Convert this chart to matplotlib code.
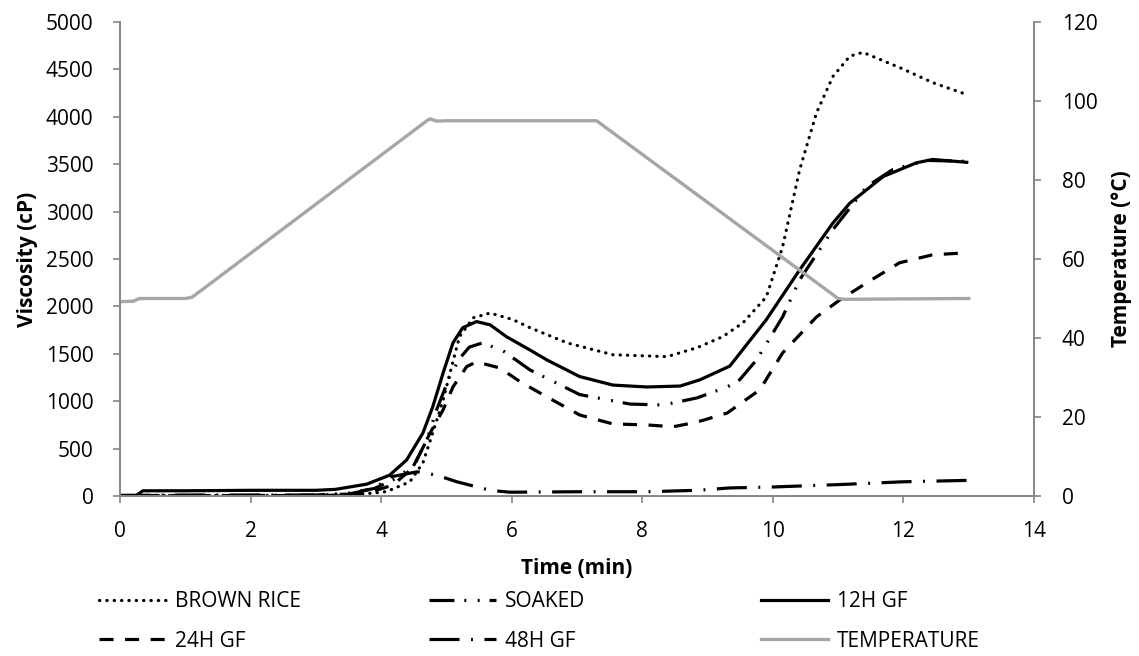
#!/usr/bin/env python

import matplotlib
matplotlib.use("Agg")
import matplotlib.pyplot as plt

plt.rcParams['font.family'] = ['Open Sans', 'DejaVu Sans']

# Temperature profile (time in min, temperature in °C)
temp_time = [0.0, 0.2, 0.3, 1.0, 1.1, 1.2, 4.7, 4.75, 4.85, 5.0, 7.3, 11.0, 11.1, 13.0]
temp_vals = [49.2, 49.3, 50.0, 50.0, 50.3, 51.5, 95.0, 95.5, 94.9, 95.0, 95.0, 50.0, 49.8, 50.0]

# Viscosity curves (time in min, viscosity in cP)
brown_time = [0.0, 1.0, 2.0, 3.0, 3.5, 4.03, 4.13, 4.44, 4.64, 4.79, 4.95, 5.08, 5.2,
              5.41, 5.67, 6.02, 6.28, 6.85, 7.55, 8.38, 8.84, 9.23, 9.54, 9.9, 10.15,
              10.41, 10.67, 10.92, 11.18, 11.38, 11.94, 12.45, 12.97]
brown_vals = [5, 5, 5, 5, 10, 40, 60, 150, 350, 665, 1015, 1365, 1680,
              1880, 1930, 1860, 1775, 1615, 1490, 1470, 1565, 1680, 1825, 2100, 2630,
              3440, 4045, 4425, 4640, 4680, 4520, 4360, 4235]

soaked_time = [0.0, 1.0, 2.0, 3.0, 3.5, 3.9, 4.18, 4.49, 4.7, 4.85, 5.05, 5.2, 5.35,
               5.55, 5.87, 6.28, 7.04, 7.81, 8.32, 8.84, 9.3, 9.49, 9.75, 10.15, 10.41,
               10.92, 11.44, 11.84, 12.36, 12.97]
soaked_vals = [5, 5, 5, 10, 30, 80, 170, 310, 590, 910, 1260, 1450, 1570,
               1615, 1530, 1330, 1070, 970, 960, 1035, 1150, 1225, 1435, 1890, 2280,
               2810, 3265, 3445, 3540, 3530]

gf12_time = [0.0, 0.25, 0.35, 1.0, 2.0, 3.0, 3.3, 3.78, 4.13, 4.39, 4.64, 4.79, 4.95,
             5.1, 5.25, 5.46, 5.67, 5.92, 6.28, 6.54, 7.04, 7.55, 8.07, 8.58, 8.88,
             9.34, 9.9, 10.41, 10.92, 11.18, 11.69, 12.2, 12.45, 12.97]
gf12_vals = [5, 5, 55, 55, 60, 60, 70, 125, 220, 380, 665, 940, 1300,
             1615, 1775, 1840, 1805, 1680, 1540, 1435, 1260, 1170, 1150, 1160, 1225,
             1370, 1860, 2385, 2880, 3090, 3370, 3515, 3550, 3520]

gf24_time = [0.0, 1.0, 2.0, 3.0, 3.5, 3.78, 4.18, 4.49, 4.75, 4.95, 5.1, 5.31, 5.46,
             5.82, 6.13, 6.54, 7.04, 7.55, 8.07, 8.47, 8.84, 9.3, 9.8, 10.15, 10.67,
             11.03, 11.44, 11.94, 12.45, 12.97]
gf24_vals = [5, 5, 5, 5, 10, 30, 115, 300, 665, 910, 1150, 1365, 1415,
             1350, 1205, 1045, 855, 760, 750, 730, 780, 875, 1120, 1510, 1890,
             2070, 2250, 2460, 2545, 2565]

gf48_time = [0.0, 1.0, 2.0, 3.0, 3.5, 3.9, 4.13, 4.55, 4.85, 5.16, 5.67, 5.97, 7.04,
             8.07, 8.84, 9.34, 10.0, 11.0, 12.0, 13.0]
gf48_vals = [5, 10, 10, 10, 20, 80, 200, 255, 220, 150, 60, 40, 45,
             45, 60, 85, 95, 120, 150, 165]

AXIS_GREY = '#868686'
TEMP_GREY = '#A6A6A6'
W, H = 1139, 656


def main() -> None:
    fig = plt.figure(figsize=(W / 100, H / 100), dpi=100)
    # axes box: x 120..1034 px, y 22..496 px
    ax = fig.add_axes([120 / W, 1 - 496 / H, 914 / W, 474 / H])
    ax2 = ax.twinx()

    lw = 2.3
    l_brown, = ax.plot(brown_time, brown_vals, color='black', lw=lw,
                       linestyle=(0, (0.1, 2.2)), dash_capstyle='round',
                       label='BROWN RICE')
    l_soaked, = ax.plot(soaked_time, soaked_vals, color='black', lw=lw,
                        linestyle=(0, (7.8, 3.1, 0.6, 3.6, 0.6, 3.1)),
                        label='SOAKED')
    l_12, = ax.plot(gf12_time, gf12_vals, color='black', lw=lw, label='12H GF')
    l_24, = ax.plot(gf24_time, gf24_vals, color='black', lw=lw,
                    linestyle=(0, (4.4, 3.6)), label='24H GF')
    l_48, = ax.plot(gf48_time, gf48_vals, color='black', lw=lw,
                    linestyle=(0, (9.4, 3.6, 0.6, 3.6)), label='48H GF')
    l_temp, = ax2.plot(temp_time, temp_vals, color=TEMP_GREY, lw=2.4,
                       label='TEMPERATURE')

    ax.set_xlim(0, 14)
    ax.set_ylim(0, 5000)
    ax2.set_ylim(0, 120)
    ax.set_xticks(range(0, 15, 2))
    ax.set_yticks(range(0, 5001, 500))
    ax2.set_yticks(range(0, 121, 20))

    for a in (ax, ax2):
        a.spines['top'].set_visible(False)
        for s in ('left', 'right', 'bottom'):
            a.spines[s].set_color(AXIS_GREY)
            a.spines[s].set_linewidth(1.2)
        a.tick_params(colors=AXIS_GREY, labelcolor='black', labelsize=15,
                      length=5, width=1.2, direction='out')
    ax.tick_params(axis='x', pad=13)
    ax.tick_params(axis='y', pad=14)
    ax2.tick_params(axis='y', pad=15)

    # axis titles, placed by pixel centre
    fig.text(577 / W, 1 - 568 / H, 'Time (min)', fontsize=15,
             fontweight='bold', ha='center', va='center')
    fig.text(28 / W, 1 - 259 / H, 'Viscosity (cP)', fontsize=15,
             fontweight='bold', ha='center', va='center', rotation=90)
    fig.text(1122 / W, 1 - 259 / H, 'Temperature (°C)', fontsize=15,
             fontweight='bold', ha='center', va='center', rotation=90)

    # legend: three columns of two rows
    columns = [(l_brown, l_24), (l_soaked, l_48), (l_12, l_temp)]
    col_x = [99, 429, 761]
    for x, pair in zip(col_x, columns):
        fig.legend(handles=list(pair), labels=[h.get_label() for h in pair],
                   loc='upper left', bbox_to_anchor=(x / W, 1 - 591 / H),
                   frameon=False, fontsize=15, handlelength=3.2,
                   handletextpad=0.43, labelspacing=0.9,
                   borderpad=0, borderaxespad=0)

    fig.savefig('out.png', dpi=100)


if __name__ == "__main__":
    main()
